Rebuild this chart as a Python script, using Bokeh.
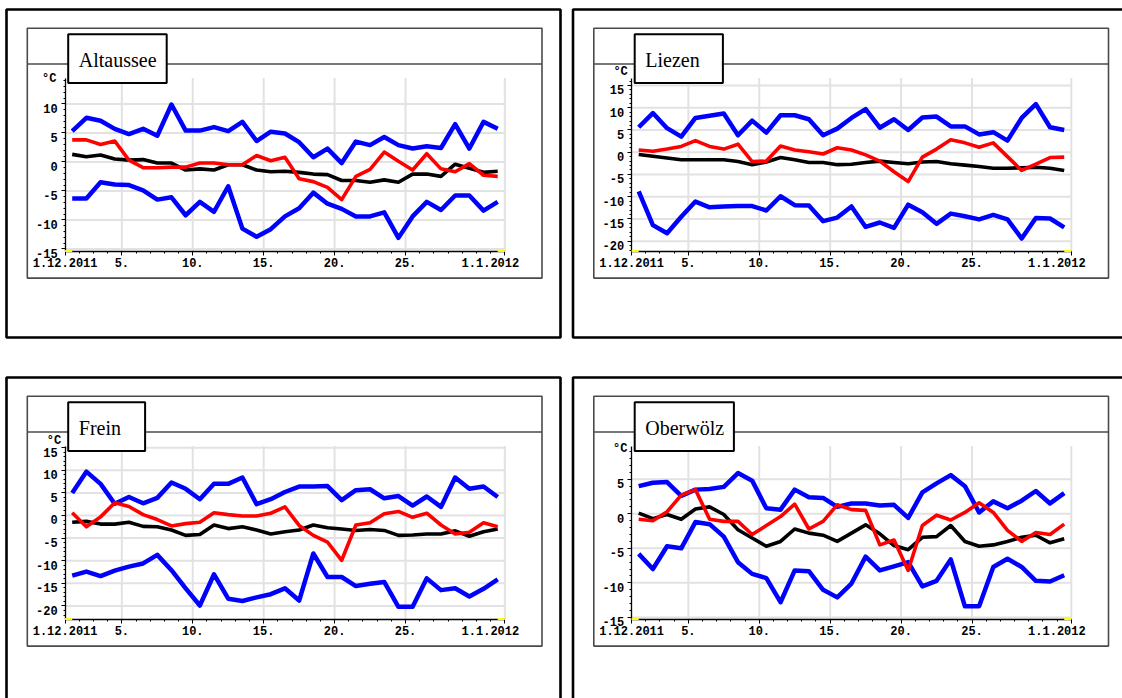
import math
from bokeh.plotting import figure
from bokeh.layouts import column, row
from bokeh.models import Range1d, FixedTicker, Label
from bokeh.embed import file_html
from bokeh.resources import INLINE
from bokeh.core.properties import value

# ---------------- data ----------------
days = list(range(1, 32))                      # 1.12.2011 .. 31.12.2011, values at noon
x_ticks = [1, 5, 10, 15, 20, 25, 32]
x_tick_labels = ["1.12.2011", "5.", "10.", "15.", "20.", "25.", "1.1.2012"]

stations = ["Altaussee", "Liezen", "Frein", "Oberwölz"]

altaussee_max = [5.3, 7.6, 7.1, 5.7, 4.8, 5.7, 4.5, 9.9, 5.4, 5.4, 6.0, 5.3, 6.9, 3.6, 5.2, 4.9,
                 3.4, 0.8, 2.3, -0.2, 3.5, 2.9, 4.3, 2.9, 2.3, 2.7, 2.4, 6.5, 2.3, 6.9, 5.7]
altaussee_mean = [3.8, 3.8, 3.0, 3.6, 0.3, -1.0, -1.0, -0.9, -0.9, -0.2, -0.2, -0.5, -0.5, 1.1, 0.2, 0.8,
                  -2.9, -3.4, -4.4, -6.5, -2.5, -1.3, 1.7, 0.1, -1.4, 1.4, -1.2, -1.7, -0.3, -2.3, -2.5]
altaussee_norm = [1.3, 0.9, 1.2, 0.5, 0.3, 0.4, -0.2, -0.2, -1.4, -1.2, -1.4, -0.5, -0.5, -1.4, -1.7, -1.6,
                  -1.8, -2.1, -2.2, -3.2, -3.2, -3.5, -3.1, -3.5, -2.1, -2.1, -2.5, -0.4, -1.1, -1.8, -1.6]
altaussee_min = [-6.3, -6.3, -3.5, -3.9, -4.0, -4.9, -6.5, -6.1, -9.2, -6.9, -8.6, -4.2, -11.5, -12.9, -11.6, -9.4,
                 -8.0, -5.3, -7.2, -8.1, -9.4, -9.4, -8.7, -13.1, -9.4, -6.9, -8.3, -5.8, -5.8, -8.4, -6.9]

liezen_max = [5.6, 8.8, 5.4, 3.5, 7.7, 8.2, 8.7, 3.8, 7.1, 4.4, 8.3, 8.3, 7.4, 3.8, 5.3, 7.7,
              9.7, 5.5, 7.4, 5.0, 7.8, 8.0, 5.8, 5.8, 4.0, 4.5, 2.6, 7.7, 10.8, 5.6, 5.0]
liezen_mean = [0.5, 0.2, 0.7, 1.3, 2.6, 1.3, 0.7, 1.8, -2.1, -2.0, 1.4, 0.5, 0.1, -0.4, 1.0, 0.5,
               -0.6, -2.0, -4.4, -6.6, -1.1, 0.7, 2.8, 2.1, 1.1, 2.1, -1.0, -4.1, -2.7, -1.2, -1.1]
liezen_norm = [-0.5, -0.9, -1.3, -1.7, -1.7, -1.7, -1.7, -2.1, -2.8, -2.2, -1.2, -1.7, -2.3, -2.3, -2.8, -2.7,
               -2.3, -2.0, -2.3, -2.6, -2.2, -2.1, -2.6, -2.9, -3.2, -3.6, -3.6, -3.5, -3.4, -3.6, -4.1]
liezen_min = [-8.8, -16.4, -18.2, -14.5, -11.1, -12.4, -12.2, -12.1, -12.1, -13.1, -9.9, -11.9, -12.0, -15.5, -14.7, -12.2,
              -16.8, -15.8, -17.0, -11.8, -13.5, -16.1, -13.8, -14.4, -15.1, -14.1, -15.1, -19.4, -14.8, -14.9, -16.9]

frein_max = [5.0, 9.7, 7.0, 2.6, 4.1, 2.7, 3.9, 7.3, 5.9, 3.6, 7.0, 7.0, 8.4, 2.5, 3.6, 5.2,
             6.4, 6.4, 6.5, 3.4, 5.6, 5.8, 3.8, 4.3, 2.2, 4.2, 1.9, 8.4, 5.9, 6.4, 4.1]
frein_mean = [0.6, -2.5, -0.3, 2.8, 2.0, 0.2, -0.9, -2.3, -1.8, -1.5, 0.6, 0.2, -0.1, -0.1, 0.5, 1.9,
              -2.2, -4.4, -5.9, -9.9, -2.1, -1.6, 0.4, 0.9, -0.4, 0.5, -2.1, -4.1, -3.7, -1.6, -2.5]
frein_norm = [-1.5, -1.3, -1.9, -1.9, -1.5, -2.4, -2.5, -3.2, -4.4, -4.2, -2.1, -2.9, -2.5, -3.2, -4.1, -3.6,
              -3.2, -2.1, -2.7, -3.0, -3.3, -3.1, -3.3, -4.4, -4.3, -4.1, -4.1, -3.4, -4.6, -3.6, -3.0]
frein_min = [-13.3, -12.4, -13.4, -12.2, -11.3, -10.6, -8.7, -12.1, -16.1, -19.9, -13.0, -18.4, -18.9, -18.1, -17.4, -16.1,
             -18.8, -8.4, -13.6, -13.6, -15.6, -15.1, -14.7, -20.2, -20.2, -13.9, -16.5, -16.1, -17.9, -16.2, -14.1]

oberwoelz_max = [4.0, 4.5, 4.6, 2.6, 3.5, 3.6, 3.9, 5.9, 4.8, 0.8, 0.6, 3.5, 2.4, 2.3, 1.0, 1.5,
                 1.5, 1.2, 1.3, -0.6, 3.1, 4.4, 5.6, 4.0, 0.2, 1.8, 0.8, 1.9, 3.3, 1.5, 3.0]
oberwoelz_mean = [-0.8, -1.0, 0.3, 2.7, 3.5, -0.8, -1.1, -1.1, -3.0, -1.7, -0.4, 1.4, -2.2, -1.1, 1.3, 0.6,
                  0.5, -4.5, -3.8, -8.2, -1.7, -0.2, -0.9, 0.2, 1.6, 0.2, -2.4, -4.0, -2.7, -3.0, -1.5]
oberwoelz_norm = [0.1, -0.7, -0.1, -0.8, 0.7, 1.0, -0.1, -2.3, -3.5, -4.7, -4.0, -2.2, -2.8, -3.1, -4.0, -2.8,
                  -1.6, -2.9, -4.6, -5.2, -3.4, -3.3, -1.7, -4.0, -4.7, -4.5, -4.0, -3.4, -3.1, -4.2, -3.6]
oberwoelz_min = [-5.8, -8.0, -4.7, -5.0, -1.2, -1.5, -3.3, -7.0, -8.7, -9.3, -12.8, -8.2, -8.3, -11.0, -12.1, -10.1,
                 -6.2, -8.2, -7.6, -7.0, -10.5, -9.7, -6.6, -13.4, -13.4, -7.7, -6.5, -7.7, -9.7, -9.8, -8.9]

y_ticks_altaussee = [-15, -10, -5, 0, 5, 10]
y_ticks_liezen = [-20, -15, -10, -5, 0, 5, 10, 15]
y_ticks_frein = [-20, -15, -10, -5, 0, 5, 10, 15]
y_ticks_oberwoelz = [-15, -10, -5, 0, 5]

# ---------------- geometry (panel-local pixels) ----------------
X0 = 64.6           # pixel of day 1 (axis origin)
PPD = 14.184        # pixels per day
PLOT_TOP = 77.5
AXIS_Y = 250.5
YLAB_DROP = 4.4     # tick labels sit a little below their tick
YLAB_GAP = 7.5      # distance of right edge of tick labels from axis

# ox, oy, width, height, zero_px, px_per_deg, degC_y, degC_right, namebox_right
specs = [
    (0.0, 0.0, 570, 374, 161.4, 5.80, 78.3, 56.0, 166.2),
    (3.5, 0.0, 552, 374, 151.7, 4.449, 71.5, 60.8, 155.9),
    (0.0, 6.0, 570, 324, 147.0, 4.523, 72.7, 60.7, 144.6),
    (3.5, 6.0, 552, 324, 145.3, 6.907, 80.3, 60.5, 166.9),
]

FONT_TICK = "Liberation Mono"


def make_panel(name, tmax, tmin, tmean, tnorm, yticks, spec):
    ox, oy, W, H, zero, k, cy, cright, box_r = spec

    def dx(px):
        return 1 + (px - X0) / PPD

    def dy(py):
        return (zero - py) / k

    p = figure(width=W, height=H,
               x_range=Range1d(dx(ox), dx(ox + W)),
               y_range=Range1d(dy(oy + H), dy(oy)),
               toolbar_location=None, tools="", output_backend="svg",
               min_border_left=0, min_border_right=0, min_border_top=0, min_border_bottom=0,
               outline_line_color=None, background_fill_color="white", border_fill_color="white")
    p.title.visible = False
    p.grid.visible = False

    ybot = dy(AXIS_Y)
    ytop = dy(PLOT_TOP)

    # panel frames
    p.quad(left=[dx(max(6.0, ox + 1.4))], right=[dx(560.0)], top=[dy(max(9.0, oy + 1.4))], bottom=[dy(337.0)],
           fill_color=None, line_color="black", line_width=2.6)
    p.quad(left=[dx(26.8)], right=[dx(541.5)], top=[dy(27.7)], bottom=[dy(277.6)],
           fill_color=None, line_color="#4a4a4a", line_width=1.6)
    p.segment(x0=[dx(26.8)], y0=[dy(63.5)], x1=[dx(541.5)], y1=[dy(63.5)],
              line_color="#4a4a4a", line_width=1.6)

    # grid lines
    gx = [t for t in x_ticks if t > x_ticks[0]]
    p.segment(x0=gx, y0=[ybot] * len(gx), x1=gx, y1=[ytop] * len(gx),
              line_color="#e2e2e2", line_width=2, level="underlay")
    gy = [t for t in yticks if ybot < t < ytop]
    p.segment(x0=[x_ticks[0]] * len(gy), y0=gy, x1=[x_ticks[-1]] * len(gy), y1=gy,
              line_color="#e2e2e2", line_width=2, level="underlay")

    xs = [d + 0.5 for d in days]
    p.line(xs, tmax, line_color="#0000ff", line_width=4.5, line_join="round")
    p.line(xs, tmin, line_color="#0000ff", line_width=4.5, line_join="round")
    p.line(xs, tnorm, line_color="black", line_width=3.6, line_join="round")
    p.line(xs, tmean, line_color="#ff0000", line_width=3.6, line_join="round")

    # axes
    xa = p.xaxis[0]
    xa.fixed_location = ybot
    xa.bounds = (x_ticks[0], x_ticks[-1])
    xa.ticker = FixedTicker(ticks=x_ticks, minor_ticks=list(range(x_ticks[0], x_ticks[-1] + 1)))
    overrides = {}
    for t, lab in zip(x_ticks, x_tick_labels):
        overrides[t] = lab
    overrides[x_ticks[-1]] = x_tick_labels[-1] + "\u00a0" * 4
    xa.major_label_overrides = overrides
    ya = p.yaxis[0]
    ya.fixed_location = x_ticks[0]
    ya.bounds = (ybot, ytop)
    ya.ticker = FixedTicker(ticks=yticks, minor_ticks=list(range(math.ceil(ybot), math.floor(ytop) + 1)))
    for ax in (xa, ya):
        ax.axis_line_color = "black"
        ax.axis_line_width = 1.3
        ax.major_tick_line_color = "black"
        ax.minor_tick_line_color = "black"
        ax.major_tick_in = 0
        ax.major_tick_out = 4
        ax.minor_tick_in = 0
        ax.minor_tick_out = 2
        ax.major_label_text_font = FONT_TICK
        ax.major_label_text_font_style = "bold"
        ax.major_label_text_font_size = "12px"
        ax.major_label_text_color = "black"
    xa.major_label_standoff = 2
    # y tick labels are drawn slightly below their ticks (as in the original)
    ya.major_label_text_alpha = 0
    p.text(x=[x_ticks[0]] * len(yticks), y=[t - YLAB_DROP / k for t in yticks],
           text=[str(t) for t in yticks], x_offset=-YLAB_GAP,
           text_font=value(FONT_TICK), text_font_style="bold", text_font_size="12px",
           text_align="right", text_baseline="middle", text_color="black")

    # yellow end marks on the time axis
    p.segment(x0=[x_ticks[0], xs[-1]], y0=[ybot, ybot], x1=[xs[0], x_ticks[-1]], y1=[ybot, ybot],
              line_color="#ffff00", line_width=2, level="overlay")

    # unit label
    p.add_layout(Label(x=x_ticks[0], y=dy(cy), x_offset=cright - X0, text="°C",
                       text_align="right", text_baseline="middle", text_font=FONT_TICK,
                       text_font_style="bold", text_font_size="12px", text_color="black"))

    # station name box
    p.quad(left=[dx(67.7)], right=[dx(box_r)], top=[dy(33.7)], bottom=[dy(82.4)],
           fill_color="white", line_color="black", line_width=2, level="overlay")
    p.text(x=[dx(78.3)], y=[dy(59.3)], text=[name], text_font=value("Liberation Serif"),
           text_font_size="20px", text_align="left", text_baseline="alphabetic",
           text_color="black", level="overlay")
    return p


p1 = make_panel(stations[0], altaussee_max, altaussee_min, altaussee_mean, altaussee_norm, y_ticks_altaussee, specs[0])
p2 = make_panel(stations[1], liezen_max, liezen_min, liezen_mean, liezen_norm, y_ticks_liezen, specs[1])
p3 = make_panel(stations[2], frein_max, frein_min, frein_mean, frein_norm, y_ticks_frein, specs[2])
p4 = make_panel(stations[3], oberwoelz_max, oberwoelz_min, oberwoelz_mean, oberwoelz_norm, y_ticks_oberwoelz, specs[3])

layout = column(row(p1, p2), row(p3, p4))
open("out.html", "w").write(file_html(layout, INLINE))
